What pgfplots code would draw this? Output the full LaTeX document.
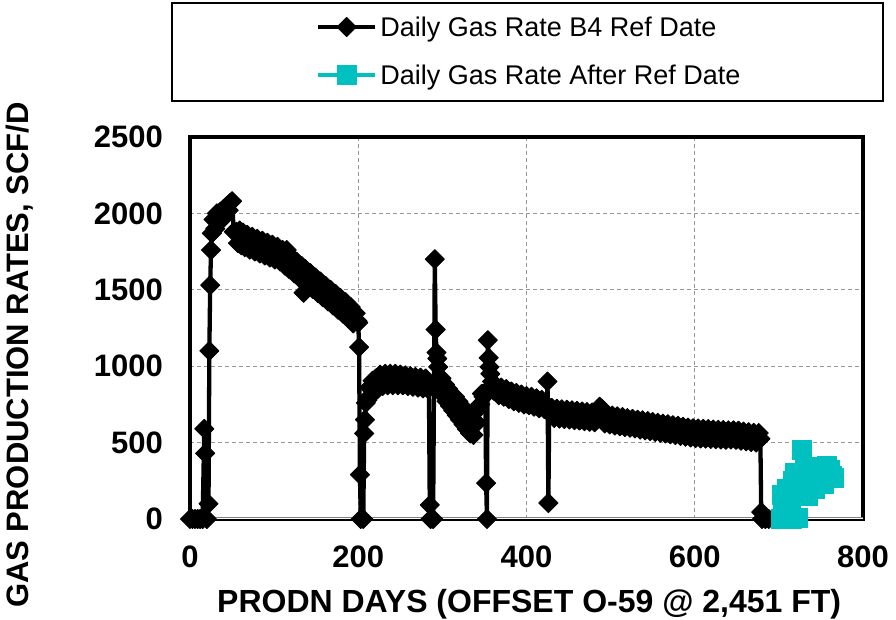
\documentclass[border=0pt]{standalone}
\usepackage{pgfplots}
\pgfplotsset{compat=1.18}
\usepackage{fontspec}
\setmainfont{Liberation Sans}
\definecolor{tealc}{RGB}{0,192,192}
\definecolor{gridgray}{RGB}{150,150,150}
\begin{document}
\begin{tikzpicture}
\path[use as bounding box] (0pt,0pt) rectangle (896pt,620pt);
\begin{axis}[
  at={(190pt,101pt)}, anchor=south west,
  scale only axis, width=673pt, height=382pt,
  xmin=0, xmax=800, ymin=0, ymax=2500,
  xtick={0,200,...,800}, ytick={0,500,...,2500},
  /pgf/number format/1000 sep={},
  /pgf/number format/assume math mode=true,
  major tick length=0pt,
  ticklabel style={font=\bfseries\fontsize{31}{36}\selectfont, inner sep=0pt},
  yticklabel style={anchor=east, xshift=-27pt},
  xticklabel style={anchor=north, yshift=-27pt},
  grid=major,
  grid style={gridgray, line width=1pt, dash pattern=on 4pt off 3pt},
  axis line style={black, line width=4pt},
  xlabel={PRODN DAYS (OFFSET O-59 @ 2,451 FT)},
  ylabel={GAS PRODUCTION RATES, SCF/D},
  xlabel style={at={(axis description cs:0.504,-0.2435)}, anchor=base, font=\bfseries\fontsize{32}{36}\selectfont, inner sep=0pt},
  ylabel style={at={(axis description cs:-0.2407,0.4293)}, anchor=base, rotate=0, font=\bfseries\fontsize{31}{36}\selectfont, inner sep=0pt},
  legend style={at={(axis description cs:0.18722,1.31414)}, anchor=north west, draw=none, fill=none, inner sep=0pt, outer sep=0pt, row sep=28pt, column sep=3pt, font=\fontsize{27}{32}\selectfont, nodes={inner sep=0pt, text height=20pt, text depth=0pt}},
  legend cell align=left,
  legend image code/.code={\draw[mark repeat=2, mark phase=2, #1] plot coordinates {(0pt,0pt) (28.5pt,0pt) (57pt,0pt)};},
]
\draw[gray, line width=1.5pt, double=white, double distance=1pt] (rel axis cs:0,0) -- (rel axis cs:1,0);
\addplot[black, line width=4.3pt, line join=round, mark=square*, mark size=6.8pt, mark options={rotate=45, line width=0.8pt, fill=black}] coordinates {
(0,0) (3,0) (6,0) (9,0) (12,0) (15,0) (17,590) (18,430) (20,0) (22,100) (23,1100) (24,1530) (25,1760) (26,1870) (28,1960) (30,1900) (32,2000) (34,1940) (36,2010) (38,1960) (40,2030) (42,1990) (44,2050) (46,2020) (48,2070) (50,2080) (52,1880)
(55,1880) (57,1805) (59,1888) (61,1791) (63,1875) (65,1779) (68,1860) (71,1763) (74,1847) (77,1750) (80,1834) (83,1737) (86,1821) (89,1724) (92,1808) (95,1711) (98,1795) (101,1698) (104,1782) (107,1685) (110,1761) (113,1657) (115,1760) (118,1634) (121,1711) (124,1607) (127,1683) (130,1579) (133,1655) (135,1480) (137,1636) (140,1533) (143,1609) (146,1505) (149,1581) (152,1478) (155,1554) (158,1451) (161,1527) (164,1424) (167,1500) (170,1397) (173,1473) (176,1370) (179,1446) (182,1343) (185,1419) (188,1314) (191,1387) (194,1280) (197,1347) (199,1296) (200,1285)
(201,1125) (202,290) (203,0) (206,0) (207,560) (208,650) (209,760) (211,780) (213,860) (215,810) (217,905) (219,840) (221,920) (223,850) (226,945) (229,870) (232,950) (235,875) (238,950) (241,875) (244,950) (247,875) (250,945) (253,875) (256,940) (259,870) (262,935) (265,865) (268,930) (271,860) (274,925) (277,855) (280,920) (283,850) (284,870) (285,92) (286,0) (289,0)
(291,1700) (292,1240) (293,1090) (294,1050) (295,995) (297,870) (299,920) (301,810) (303,880) (305,770) (307,850) (309,740) (311,820) (313,710) (315,800) (317,680) (319,770) (321,650) (323,740) (325,620) (327,710) (329,590) (331,680) (333,560) (335,660) (337,550) (339,620) (341,630) (343,720) (345,750) (347,820) (349,800) (351,830) (352,235) (353,0)
(354,1170) (355,1055) (356,995) (357,950) (359,900) (361,840) (364,870) (367,810) (370,860) (373,800) (376,850) (379,785) (382,835) (385,770) (388,825) (391,760) (394,815) (397,750) (400,805) (403,745) (406,800) (409,735) (412,790) (415,725) (418,780) (421,720) (424,735) (425,900) (426,105)
(427,700) (430,727) (433,661) (436,722) (439,657) (442,718) (445,654) (448,715) (451,651) (454,711) (457,647) (460,708) (463,644) (466,704) (469,640) (472,700) (475,636) (478,697) (481,633) (484,693) (487,735) (490,720) (493,625) (496,683) (499,619) (502,677) (505,612) (508,672) (511,607) (514,667) (517,602) (520,660) (523,597) (526,655) (529,592) (532,650) (535,585) (538,646) (541,580) (544,641) (547,575) (550,635) (553,570) (556,630) (559,564) (562,624) (565,559) (568,620) (571,554) (574,614) (577,549) (580,610) (583,544) (586,604) (589,539) (592,598) (595,533) (598,594) (601,530) (604,592) (607,527) (610,590) (613,526) (616,589) (619,524) (622,586) (625,522) (628,584) (631,520) (634,582) (637,518) (640,580) (643,520) (646,580) (649,518) (652,578) (655,512) (658,572) (661,508) (664,568) (667,504) (670,564) (673,500) (676,562) (678,525) (679,45) (680,0) (684,0) (688,0)
};
\addlegendentry{Daily Gas Rate B4 Ref Date}
\addplot[tealc, line width=4.3pt, line join=round, mark=square*, mark size=9.5pt, mark options={line width=0.8pt, fill=tealc}] coordinates {
(702,0) (703,160) (705,80) (707,0) (709,200) (711,60) (713,150) (715,0) (717,250) (719,300) (721,200) (723,10) (725,260) (727,450) (729,290) (731,320) (733,220) (735,150) (737,330) (739,240) (741,300) (743,200) (745,280) (747,340) (749,270) (751,320) (753,230) (755,300) (757,350) (759,270) (761,320) (763,280) (765,270)
};
\addlegendentry{Daily Gas Rate After Ref Date}
\end{axis}
\draw[black, line width=1.2pt] (172pt,519pt) rectangle (883pt,617pt);
\end{tikzpicture}
\end{document}
